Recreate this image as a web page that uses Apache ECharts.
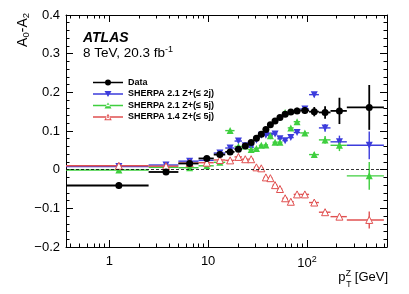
<!DOCTYPE html>
<html><head><meta charset="utf-8">
<script src="https://cdn.jsdelivr.net/npm/echarts@6/dist/echarts.min.js"></script>
<style>html,body{margin:0;padding:0;background:#fff}#c{width:409px;height:294px}</style>
</head><body><div id="c"></div>
<script>
// ---- data ----
const binEdges = [0, 2.5, 5, 8, 11.4, 14.9, 18.5, 22, 25.5, 29, 32.6, 36.4, 40.4, 44.9, 50.2, 56.4, 63.9, 73.4, 85.4, 105, 132, 173, 253, 600];
const binCenters = [1.25, 3.75, 6.5, 9.7, 13.15, 16.7, 20.25, 23.75, 27.25, 30.8, 34.5, 38.4, 42.65, 47.55, 53.3, 60.15, 68.65, 79.4, 95.2, 118.5, 152.5, 213, 426.5];
const dataVals = [-0.041, -0.006, 0.016, 0.029, 0.039, 0.046, 0.053, 0.061, 0.070, 0.081, 0.0915, 0.104, 0.116, 0.126, 0.135, 0.143, 0.149, 0.152, 0.153, 0.150, 0.148, 0.152, 0.161];
const dataErr = [0.008, 0.005, 0.004, 0.004, 0.004, 0.004, 0.004, 0.004, 0.004, 0.004, 0.004, 0.004, 0.004, 0.005, 0.005, 0.006, 0.007, 0.008, 0.009, 0.012, 0.016, 0.034, 0.058];
const sherpa21_2jVals = [0.008, 0.012, 0.022, 0.024, 0.043, 0.056, 0.074, 0.062, 0.058, 0.076, 0.089, 0.089, 0.087, 0.092, 0.080, 0.075, 0.083, 0.096, 0.157, 0.194, 0.108, 0.072, 0.063];
const sherpa21_2jErr = [0.002, 0.002, 0.002, 0.002, 0.003, 0.003, 0.003, 0.003, 0.003, 0.003, 0.003, 0.003, 0.003, 0.003, 0.003, 0.003, 0.003, 0.004, 0.005, 0.007, 0.010, 0.016, 0.036];
const sherpa21_5jVals = [-0.001, 0.006, 0.005, 0.010, 0.019, 0.101, 0.060, 0.061, 0.052, 0.055, 0.063, 0.064, 0.088, 0.071, 0.071, 0.148, 0.108, 0.124, 0.095, 0.039, 0.077, 0.063, -0.016];
const sherpa21_5jErr = [0.002, 0.002, 0.002, 0.002, 0.003, 0.003, 0.003, 0.003, 0.003, 0.003, 0.003, 0.003, 0.003, 0.003, 0.003, 0.003, 0.003, 0.004, 0.005, 0.006, 0.010, 0.015, 0.036];
const sherpa14_5jVals = [0.010, 0.009, 0.017, 0.018, 0.025, 0.024, 0.033, 0.027, 0.027, 0.006, 0.0035, -0.020, -0.022, -0.040, -0.050, -0.074, -0.083, -0.064, -0.064, -0.085, -0.110, -0.1215, -0.130];
const sherpa14_5jErr = [0.002, 0.002, 0.002, 0.002, 0.002, 0.002, 0.002, 0.002, 0.002, 0.002, 0.002, 0.002, 0.002, 0.002, 0.002, 0.002, 0.002, 0.003, 0.003, 0.004, 0.004, 0.005, 0.022];
const seriesNames = ['Data', 'SHERPA 2.1 Z+(\u2264 2j)', 'SHERPA 2.1 Z+(\u2264 5j)', 'SHERPA 1.4 Z+(\u2264 5j)'];

// ---- styling ----
const FONT = '"Liberation Sans", Arial, Helvetica, sans-serif';
const C_DATA = '#000000', C_BLUE = '#3c3cdc', C_GREEN = '#3fcf3f', C_RED = '#e05050';

function rows(vals, errs) {
  return vals.map((v, i) => [binCenters[i], v, binEdges[i], binEdges[i + 1], errs[i]]);
}
function errRender(color, lw) {
  return function (params, api) {
    const cs = params.coordSys;
    const xc = api.value(0), y = api.value(1), xlo = api.value(2), xhi = api.value(3), e = api.value(4);
    const c = api.coord([xc, y]);
    const xl = xlo > 0 ? api.coord([xlo, y])[0] : cs.x;
    const xr = api.coord([xhi, y])[0];
    const yt = api.coord([xc, y + e])[1];
    const yb = api.coord([xc, y - e])[1];
    return {
      type: 'group', children: [
        { type: 'line', shape: { x1: xl, y1: c[1], x2: xr, y2: c[1] }, style: { stroke: color, lineWidth: lw } },
        { type: 'line', shape: { x1: c[0], y1: yt, x2: c[0], y2: yb }, style: { stroke: color, lineWidth: lw } }
      ]
    };
  };
}
function errSeries(name, vals, errs, color, lw, z) {
  return {
    type: 'custom', name: name, xAxisIndex: 0, yAxisIndex: 0, z: z,
    renderItem: errRender(color, lw), clip: true,
    itemStyle: { color: color },
    encode: { x: 0, y: 1 },
    data: rows(vals, errs)
  };
}
function markSeries(name, vals, symbol, rotate, size, fill, stroke, z) {
  return {
    type: 'scatter', name: name, z: z,
    symbol: symbol, symbolRotate: rotate, symbolSize: size,
    itemStyle: { color: fill, borderColor: stroke, borderWidth: stroke ? 1 : 0, opacity: 1 },
    data: vals.map((v, i) => [binCenters[i], v])
  };
}

const LINE = 'M0,3.3H30V4.7H0Z ';
const icons = [
  'path://' + LINE + 'M18,4A3,3 0 1 1 12,4A3,3 0 1 1 18,4Z',
  'path://' + LINE + 'M11.5,1H18.5L15,7Z',
  'path://' + LINE + 'M11.5,7H18.5L15,1Z',
  'path://' + LINE + 'M11.2,7.2H18.8L15,0.8Z M12.9,6.2L15,2.6L17.1,6.2Z'
];
const legendColors = [C_DATA, C_BLUE, C_GREEN, C_RED];

const axisFmtX = function (v) {
  const l = Math.log10(v);
  if (Math.abs(l - Math.round(l)) > 1e-6) return '';
  const p = Math.round(l);
  if (p === 0) return '1';
  if (p === 1) return '10';
  return '10{sup|' + p + '}';
};
const axisFmtY = function (v) {
  const r = Math.round(v * 10) / 10;
  if (r === 0) return '0';
  return (r < 0 ? '\u2212' : '') + Math.abs(r).toFixed(1);
};

const xMin = 0.365, xMax = 645;
const commonX = {
  type: 'log', min: xMin, max: xMax, logBase: 10,
  axisLine: { show: true, onZero: false, lineStyle: { color: '#000', width: 1 } },
  axisTick: { show: true, inside: true, length: 7, lineStyle: { color: '#000', width: 1 } },
  minorTick: { show: true, splitNumber: 9, length: 3.5, lineStyle: { color: '#000', width: 1 } },
  splitLine: { show: false }, minorSplitLine: { show: false }
};
const commonY = {
  type: 'value', min: -0.2, max: 0.4, interval: 0.1,
  axisLine: { show: true, onZero: false, lineStyle: { color: '#000', width: 1 } },
  axisTick: { show: true, inside: true, length: 7, lineStyle: { color: '#000', width: 1 } },
  minorTick: { show: true, splitNumber: 5, length: 3.5, lineStyle: { color: '#000', width: 1 } },
  splitLine: { show: false }, minorSplitLine: { show: false }
};

const chart = echarts.init(document.getElementById('c'), null, { renderer: 'canvas' });
chart.setOption({
  animation: false,
  backgroundColor: '#fff',
  grid: { left: 66, top: 15, width: 321, height: 232, containLabel: false },
  xAxis: [
    Object.assign({}, commonX, {
      position: 'bottom',
      axisLabel: {
        show: true, margin: 8, color: '#000', fontSize: 13, fontFamily: FONT,
        formatter: axisFmtX, showMinLabel: false, showMaxLabel: false,
        rich: { sup: { fontSize: 9, fontFamily: FONT, color: '#000', padding: [0, 0, 8, 0] } }
      }
    }),
    Object.assign({}, commonX, { position: 'top', axisLabel: { show: false } })
  ],
  yAxis: [
    Object.assign({}, commonY, {
      position: 'left',
      axisLabel: { show: true, margin: 6, color: '#000', fontSize: 13, fontFamily: FONT, formatter: axisFmtY }
    }),
    Object.assign({}, commonY, { position: 'right', axisLabel: { show: false } })
  ],
  legend: {
    orient: 'vertical', left: 88, top: 73,
    itemWidth: 30, itemHeight: 8, itemGap: 2.5,
    textStyle: { fontSize: 9, fontWeight: 'bold', fontFamily: FONT, color: '#000' },
    selectedMode: false,
    data: seriesNames.map((n, i) => ({ name: n, icon: icons[i], itemStyle: { color: legendColors[i], borderWidth: 0, opacity: 1 } }))
  },
  graphic: [
    { type: 'text', left: 83, top: 31, style: { text: 'ATLAS', font: 'italic bold 14px ' + FONT, fill: '#000' } },
    { type: 'text', left: 83, top: 45, style: {
        text: '8 TeV, 20.3 fb{sup|-1}', font: '13.5px ' + FONT, fill: '#000',
        rich: { sup: { fontSize: 9, fontFamily: FONT, fill: '#000', padding: [0, 0, 8, 0] } } } },
    { type: 'text', x: 23, y: 13, rotation: Math.PI / 2, style: {
        text: 'A{s|0}-A{s|2}', font: '14px ' + FONT, fill: '#000', align: 'right', verticalAlign: 'middle',
        rich: { s: { fontSize: 9.5, fontFamily: FONT, fill: '#000', padding: [7, 0, 0, 0] } } } },
    { type: 'group', right: 21, top: 269, children: [
      { type: 'text', x: 0, y: 0, style: { text: 'p', font: '13px ' + FONT, fill: '#000' } },
      { type: 'text', x: 7.5, y: -2, style: { text: 'Z', font: '8.5px ' + FONT, fill: '#000' } },
      { type: 'text', x: 8, y: 9, style: { text: 'T', font: '8.5px ' + FONT, fill: '#000' } },
      { type: 'text', x: 16.5, y: 0, style: { text: '[GeV]', font: '13px ' + FONT, fill: '#000' } }
    ] }
  ],
  series: [
    errSeries(seriesNames[1], sherpa21_2jVals, sherpa21_2jErr, C_BLUE, 1.4, 2),
    markSeries(seriesNames[1], sherpa21_2jVals, 'triangle', 180, 7, C_BLUE, null, 3),
    errSeries(seriesNames[2], sherpa21_5jVals, sherpa21_5jErr, C_GREEN, 1.4, 2),
    markSeries(seriesNames[2], sherpa21_5jVals, 'triangle', 0, 7, C_GREEN, null, 3),
    errSeries(seriesNames[3], sherpa14_5jVals, sherpa14_5jErr, C_RED, 1.4, 2),
    markSeries(seriesNames[3], sherpa14_5jVals, 'triangle', 0, 7, '#ffffff', C_RED, 3),
    Object.assign(errSeries(seriesNames[0], dataVals, dataErr, C_DATA, 1.8, 4), {
      markLine: {
        silent: true, symbol: 'none', label: { show: false },
        lineStyle: { color: '#000', width: 0.8, type: [3, 2] },
        data: [{ yAxis: 0 }]
      }
    }),
    markSeries(seriesNames[0], dataVals, 'circle', 0, 7, C_DATA, null, 5)
  ]
});
</script>
</body></html>
